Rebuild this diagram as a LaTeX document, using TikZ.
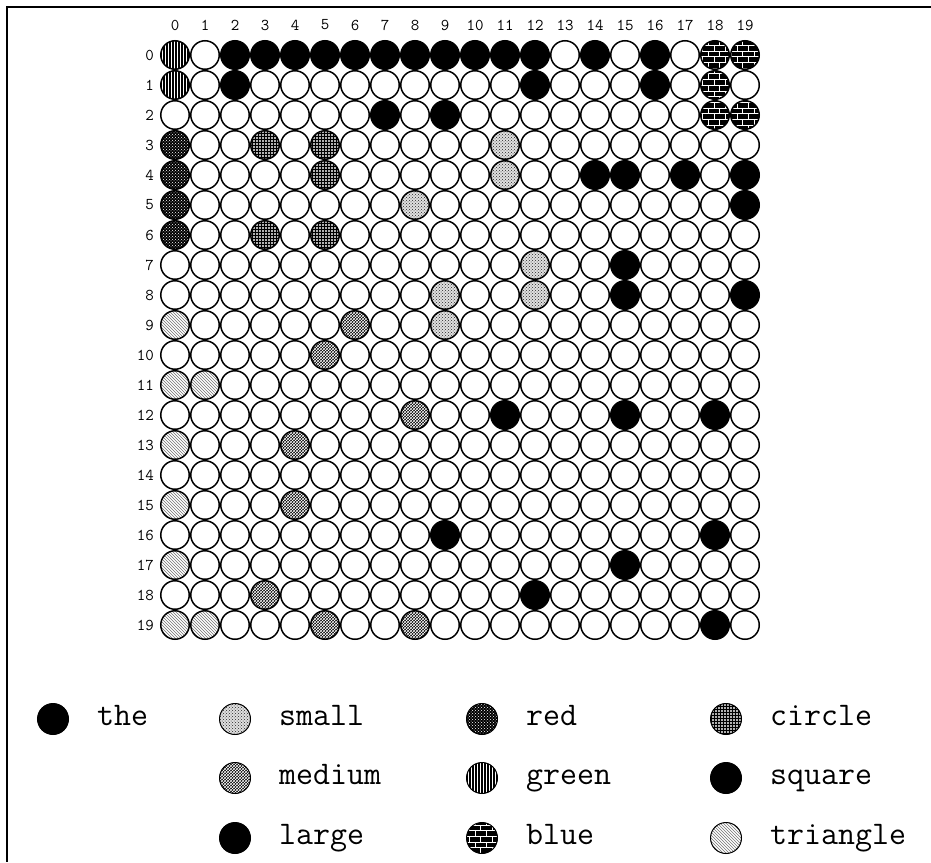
\documentclass[tikz,border=0pt]{standalone}
\usepackage{fontspec}
\usetikzlibrary{patterns,positioning}

\begin{document}
\begin{tikzpicture}[
    x=1pt, y=-1pt,
    font=\ttfamily,
    node distance=28pt,
    dot/.style={circle, draw, line width=1.5pt, minimum size=28.5pt, inner sep=0pt},
    key/.style={circle, draw, line width=1pt, minimum size=31pt, inner sep=0pt},
    num/.style={font=\ttfamily\fontsize{16.5}{18}\selectfont, inner sep=0pt},
    word/.style={font=\ttfamily\fontsize{33}{38}\selectfont, inner sep=0pt, text height=19pt, text depth=7pt},
    k0/.style={fill=white},
    k1/.style={fill=black},
    k2/.style={preaction={fill=black!12}, pattern=crosshatch dots, pattern color=black!85},
    k3/.style={preaction={fill=black}, pattern=crosshatch, pattern color=white},
    k4/.style={preaction={fill=black}, pattern=crosshatch dots, pattern color=white},
    k5/.style={preaction={fill=black!30}, pattern=grid, pattern color=black},
    k6/.style={preaction={fill=black}, pattern=vertical lines, pattern color=white},
    k7/.style={preaction={fill=black}, pattern=bricks, pattern color=white},
    k8/.style={pattern=north west lines, pattern color=black!55}
]
\useasboundingbox (0,0) rectangle (931,862);
\draw[line width=2pt] (931,7) -- (7,7);
\draw[line width=1.5pt] (7,6) -- (7,862);

% column and row numbers
\foreach \c in {0,...,19}
  \node[num] (h\c) at (175+30*\c, 25) {\c};
\foreach \r in {0,...,19}
  \node[num, anchor=east] (v\r) at (154, 55+30*\r) {\r};

% 0 empty, 1 black, 2 small, 3 medium, 4 red, 5 circle, 6 green, 7 blue, 8 triangle
\foreach \row [count=\r from 0] in {
    {6,0,1,1,1,1,1,1,1,1,1,1,1,0,1,0,1,0,7,7},
    {6,0,1,0,0,0,0,0,0,0,0,0,1,0,0,0,1,0,7,0},
    {0,0,0,0,0,0,0,1,0,1,0,0,0,0,0,0,0,0,7,7},
    {4,0,0,5,0,5,0,0,0,0,0,2,0,0,0,0,0,0,0,0},
    {4,0,0,0,0,5,0,0,0,0,0,2,0,0,1,1,0,1,0,1},
    {4,0,0,0,0,0,0,0,2,0,0,0,0,0,0,0,0,0,0,1},
    {4,0,0,5,0,5,0,0,0,0,0,0,0,0,0,0,0,0,0,0},
    {0,0,0,0,0,0,0,0,0,0,0,0,2,0,0,1,0,0,0,0},
    {0,0,0,0,0,0,0,0,0,2,0,0,2,0,0,1,0,0,0,1},
    {8,0,0,0,0,0,3,0,0,2,0,0,0,0,0,0,0,0,0,0},
    {0,0,0,0,0,3,0,0,0,0,0,0,0,0,0,0,0,0,0,0},
    {8,8,0,0,0,0,0,0,0,0,0,0,0,0,0,0,0,0,0,0},
    {0,0,0,0,0,0,0,0,3,0,0,1,0,0,0,1,0,0,1,0},
    {8,0,0,0,3,0,0,0,0,0,0,0,0,0,0,0,0,0,0,0},
    {0,0,0,0,0,0,0,0,0,0,0,0,0,0,0,0,0,0,0,0},
    {8,0,0,0,3,0,0,0,0,0,0,0,0,0,0,0,0,0,0,0},
    {0,0,0,0,0,0,0,0,0,1,0,0,0,0,0,0,0,0,1,0},
    {8,0,0,0,0,0,0,0,0,0,0,0,0,0,0,1,0,0,0,0},
    {0,0,0,3,0,0,0,0,0,0,0,0,1,0,0,0,0,0,0,0},
    {8,8,0,0,0,3,0,0,3,0,0,0,0,0,0,0,0,0,1,0}}
  \foreach \k [count=\c from 0] in \row
    \node[dot, k\k] (c\r-\c) at (175+30*\c, 55+30*\r) {};

% legend
\foreach \n/\k/\x/\y in {the/1/53/719, small/2/235/719, red/4/482/719, circle/5/726/719,
    medium/3/235/778, green/6/482/778, square/1/726/778,
    large/1/235/838, blue/7/482/838, triangle/8/726/838} {
  \node[key, k\k] (l\n) at (\x,\y) {};
  \node[word, right=of l\n] (t\n) {\n};
}
\end{tikzpicture}
\end{document}
